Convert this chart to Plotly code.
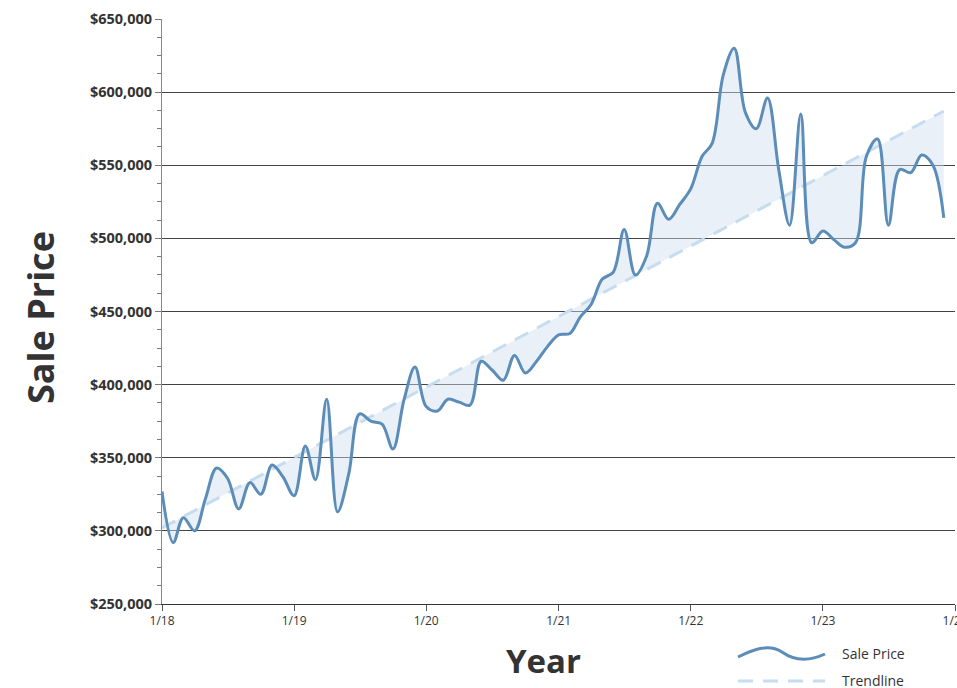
import pandas as pd
import plotly.graph_objects as go

# Monthly median sale price, Jan 2018 - Dec 2023
months = pd.date_range("2018-01-01", periods=72, freq="MS")
sale_price = [
    327000, 292000, 309000, 300000, 322000, 343000, 336000, 315000, 333000, 325000, 345000, 337000,
    324000, 358000, 335000, 390000, 313000, 339000, 380000, 375000, 373000, 356000, 390000, 412000,
    385000, 382000, 390000, 388000, 386000, 416000, 410000, 403000, 420000, 408000, 416000, 426000,
    434000, 435000, 446000, 455000, 472000, 477000, 506000, 475000, 488000, 524000, 513000, 523000,
    534000, 556000, 565000, 612000, 630000, 586000, 575000, 596000, 547000, 509000, 585000, 497000,
    505000, 499000, 494000, 497000, 556000, 568000, 509000, 547000, 545000, 557000, 550000, 514000,
]
# Linear trend endpoints
trend_dates = [months[0], months[-1]]
trend_values = [302000, 587000]

year_ticks = pd.date_range("2018-01-01", "2024-01-01", freq="YS")

LINE = "#5b8db8"
TREND = "#c6dcef"
FILL = "rgba(206,222,238,0.45)"
W, H = 957, 688
L, R, T, B = 162, 2, 19, 84

fig = go.Figure()
# invisible baseline for the shaded band
fig.add_trace(go.Scatter(x=trend_dates, y=trend_values, mode="lines",
                         line=dict(width=0, color=TREND), showlegend=False, hoverinfo="skip"))
fig.add_trace(go.Scatter(x=months, y=sale_price, mode="lines", fill="tonexty",
                         fillcolor=FILL, line=dict(width=0, shape="spline", smoothing=1),
                         showlegend=False, hoverinfo="skip"))
fig.add_trace(go.Scatter(x=trend_dates, y=trend_values, mode="lines", name="Trendline",
                         line=dict(color=TREND, width=3, dash="15px,10px"), showlegend=False))
fig.add_trace(go.Scatter(x=months, y=sale_price, mode="lines", name="Sale Price",
                         line=dict(color=LINE, width=3, shape="spline", smoothing=1),
                         showlegend=False))

pw, ph = W - L - R, H - T - B


def px(x):
    return (x - L) / pw


def py(y):
    return (H - B - y) / ph


# legend keys
wave = (f"M {px(738)},{py(657)} C {px(752)},{py(650)} {px(768)},{py(643)} {px(782)},{py(652)} "
        f"C {px(796)},{py(662)} {px(810)},{py(661)} {px(825)},{py(654)}")
fig.add_shape(type="path", path=wave, xref="paper", yref="paper",
              line=dict(color=LINE, width=3))
fig.add_shape(type="line", x0=px(738), x1=px(825), y0=py(681), y1=py(681),
              xref="paper", yref="paper", line=dict(color=TREND, width=3, dash="15px,10px"))

FONT = "Open Sans"
for label, yy in [("Sale Price", 653), ("Trendline", 680)]:
    fig.add_annotation(text=label, x=px(840), y=py(yy), xref="paper", yref="paper",
                       xanchor="left", yanchor="middle", showarrow=False,
                       font=dict(family=FONT, size=14, color="#333"))

fig.add_annotation(text="<b>Year</b>", x=px(543), y=py(660), xref="paper", yref="paper",
                   xanchor="center", yanchor="middle", showarrow=False,
                   font=dict(family=FONT, size=33, color="#333"))
fig.add_annotation(text="<b>Sale Price</b>", x=px(40), y=py(318), xref="paper", yref="paper",
                   xanchor="center", yanchor="middle", showarrow=False, textangle=-90,
                   font=dict(family=FONT, size=36, color="#333"))

fig.update_layout(
    width=W, height=H,
    margin=dict(l=L, r=R, t=T, b=B, autoexpand=False),
    plot_bgcolor="white", paper_bgcolor="white",
    font=dict(family=FONT, color="#333"),
)
fig.update_xaxes(
    range=[year_ticks[0], year_ticks[-1]], automargin=False,
    tickvals=year_ticks, ticktext=[d.strftime("%-m/%y") for d in year_ticks],
    ticks="outside", ticklen=6, tickcolor="#555", ticklabeloverflow="allow",
    showline=True, linecolor="#333", linewidth=1,
    showgrid=False, zeroline=False,
    tickfont=dict(family=FONT, size=12, color="#333"),
)
fig.update_yaxes(
    range=[250000, 650000], dtick=50000, tickformat="$,.0f", automargin=False,
    ticks="outside", ticklen=6, tickcolor="#777",
    minor=dict(dtick=12500, ticks="outside", ticklen=4, tickcolor="#777", showgrid=False),
    showline=True, linecolor="#888", linewidth=1,
    showgrid=True, gridcolor="#444", gridwidth=1, zeroline=False,
    tickfont=dict(family=FONT, size=14.5, color="#333", weight="bold"),
)

fig.write_html("out.html")
